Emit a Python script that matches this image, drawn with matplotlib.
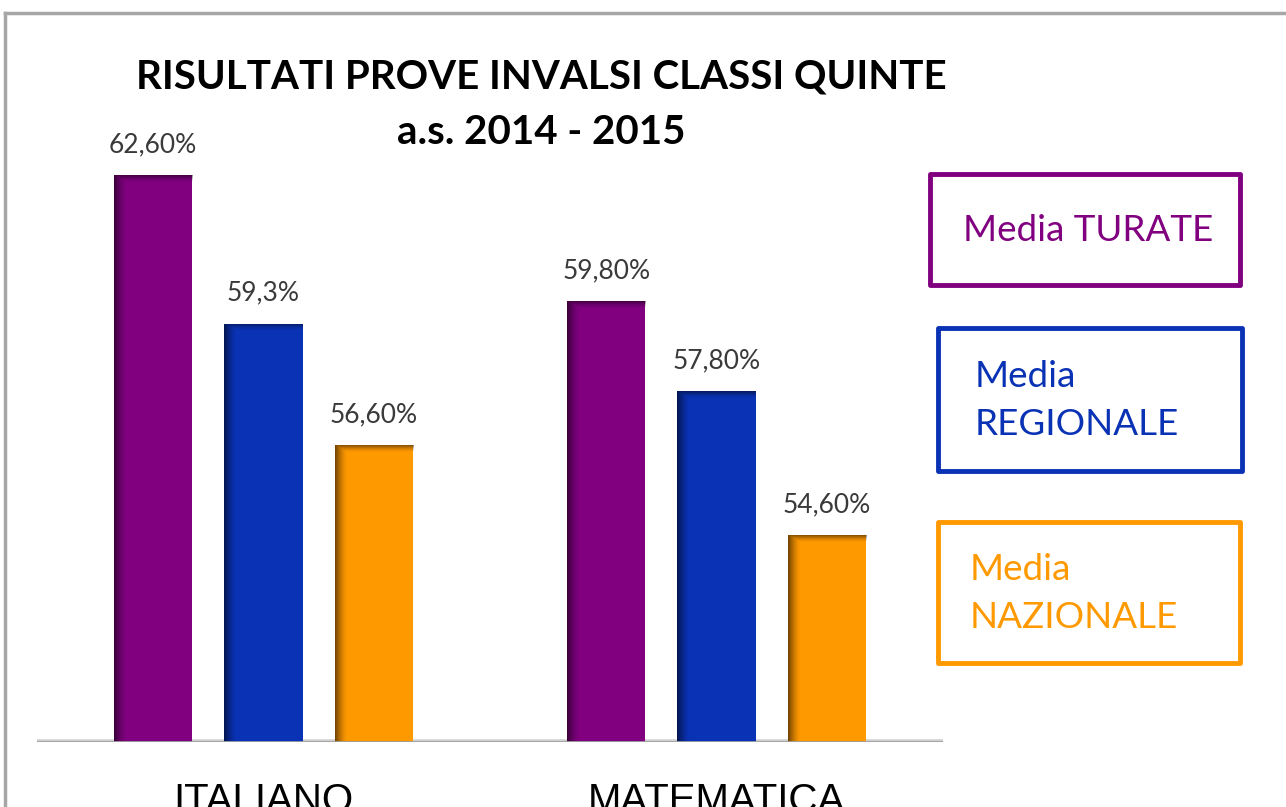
import numpy as np
import matplotlib
matplotlib.use("Agg")
import matplotlib.pyplot as plt
from matplotlib.patches import Rectangle
from matplotlib.lines import Line2D

# ---- data ----
categories = ["ITALIANO", "MATEMATICA"]
series_names = ["Media TURATE", "Media\nREGIONALE", "Media\nNAZIONALE"]
turate = [62.6, 59.8]
regionale = [59.3, 57.8]
nazionale = [56.6, 54.6]
label_turate = ["62,60%", "59,80%"]
label_regionale = ["59,3%", "57,80%"]
label_nazionale = ["56,60%", "54,60%"]
title_lines = ["RISULTATI PROVE INVALSI CLASSI QUINTE", "a.s. 2014 - 2015"]

colors = ["#800080", "#0A32B4", "#FF9900"]

W, H = 1286, 807
fig = plt.figure(figsize=(W / 100, H / 100), dpi=100)
fig.patch.set_facecolor("white")

ax = fig.add_axes([37 / W, (H - 742) / H, 906 / W, 675 / H])
ax.set_xlim(-0.5, 1.5)
ax.set_ylim(50, 65)
ax.axis("off")

x = np.arange(len(categories))
offsets = [-0.2434, 0.0, 0.2434]
width = 0.1726
series = [turate, regionale, nazionale]
labels = [label_turate, label_regionale, label_nazionale]

fig.canvas.draw()
for vals, labs, off, col in zip(series, labels, offsets, colors):
    bars = ax.bar(x + off, np.array(vals) - 50, width, bottom=50, color=col,
                  edgecolor="none", zorder=2)
    for b, lab in zip(bars, labs):
        # bevel shading overlay
        x0, y0 = b.get_x(), b.get_y()
        bw, bh = b.get_width(), b.get_height()
        p0 = ax.transData.transform((x0, y0))
        p1 = ax.transData.transform((x0 + bw, y0 + bh))
        pw, ph = int(abs(p1[0] - p0[0])), int(abs(p1[1] - p0[1]))
        cols = np.arange(pw)
        rows = np.arange(ph)
        a_left = np.clip(1 - cols / 12.0, 0, 1) ** 1.5 * 0.55
        a_top = np.clip(1 - rows / 7.0, 0, 1) ** 1.5 * 0.45
        A = np.maximum(a_left[None, :], a_top[:, None])
        img = np.zeros((ph, pw, 4))
        img[..., 3] = A
        im = ax.imshow(img, extent=(x0, x0 + bw, y0, y0 + bh), origin="upper",
                       aspect="auto", zorder=3, interpolation="bilinear")
        im.set_clip_path(b)
        ax.annotate(lab, (b.get_x() + bw / 2, y0 + bh), xytext=(0, 13),
                    textcoords="offset points", ha="center", va="bottom",
                    fontsize=19, color="#3a3a3a", family=["Lato", "DejaVu Sans"])
ax.set_xlim(-0.5, 1.5)
ax.set_ylim(50, 65)

# baseline
ax.axhline(50, color="#d0d0d0", lw=4, zorder=1)
ax.axhline(50, color="#a0a0a0", lw=2, zorder=4)

# category labels (cut by the lower edge, as in the original image)
for xi, c in zip(x, categories):
    ax.text(xi, 50 - 40 / 45, c, ha="center", va="top",
            fontsize=29, color="black",
            family=["Liberation Sans Narrow", "Liberation Sans", "DejaVu Sans"])

# title (two lines)
for ty, line in zip([77, 133], title_lines):
    fig.text(541 / W, 1 - ty / H, line, ha="center", va="center",
             fontsize=29, fontweight="bold", color="black",
             family=["Lato", "DejaVu Sans"])

# outer frame
fig.add_artist(Line2D([5 / W, 5 / W], [0, 1 - 13 / H], color="#a6a6a6", lw=2.5))
fig.add_artist(Line2D([5 / W, 1], [1 - 13 / H, 1 - 13 / H], color="#a6a6a6", lw=2.5))

# legend boxes
boxes = [(930, 174, 1240, 285), (938, 328, 1242, 471), (938, 522, 1240, 663)]
text_x = [963, 975, 970]
for (bx0, by0, bx1, by1), name, col, tx in zip(boxes, series_names, colors, text_x):
    fig.add_artist(Rectangle((bx0 / W, 1 - by1 / H), (bx1 - bx0) / W, (by1 - by0) / H,
                             transform=fig.transFigure, fill=False, edgecolor=col,
                             lw=3.5, joinstyle="round"))
    fig.text(tx / W, 1 - ((by0 + by1) / 2 + 1) / H, name, ha="left", va="center",
             fontsize=26.5, color=col, linespacing=1.55,
             family=["Lato", "DejaVu Sans"])

fig.savefig("out.png", dpi=100, facecolor="white")
